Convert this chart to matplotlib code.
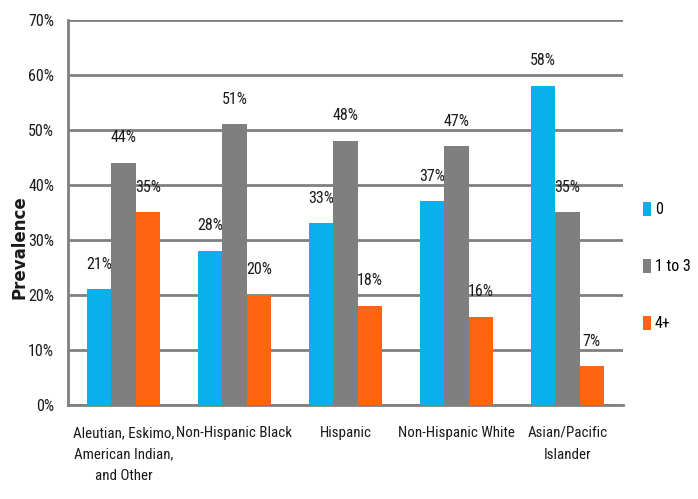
import numpy as np
import matplotlib.pyplot as plt
from matplotlib import font_manager

groups = ["Aleutian, Eskimo,\nAmerican Indian,\nand Other", "Non-Hispanic Black",
          "Hispanic", "Non-Hispanic White", "Asian/Pacific\nIslander"]
series = ["0", "1 to 3", "4+"]
vals_0 = [21, 28, 33, 37, 58]
vals_13 = [44, 51, 48, 47, 35]
vals_4 = [35, 20, 18, 16, 7]
colors = ["#0AAFEE", "#7F7F7F", "#FF6410"]

names = {f.name for f in font_manager.fontManager.ttflist}
narrow = next((n for n in ["Roboto Condensed", "Archivo Narrow", "PT Sans Narrow"] if n in names),
              "Liberation Sans")
plt.rcParams["font.family"] = [narrow, "DejaVu Sans"]
txt = "#1a1a1a"
fs = 11.5

fig = plt.figure(figsize=(6.98, 4.99), dpi=100)
ax = fig.add_axes([0.0974, 0.1884, 0.795, 0.7716])

x = np.arange(len(groups))
w = 0.22
handles = []
for i, (vals, lab) in enumerate(zip([vals_0, vals_13, vals_4], series)):
    pos = x + (i - 1) * w
    handles.append(ax.bar(pos, vals, width=w, color=colors[i], label=lab, zorder=3))
    for p, v in zip(pos, vals):
        ax.text(p, v + 3.2, f"{v}%", ha="center", va="bottom", fontsize=fs, color=txt)

ax.set_xlim(-0.5, len(groups) - 0.5)
ax.set_ylim(0, 70)
ax.set_yticks(np.arange(0, 71, 10))
ax.set_yticklabels([f"{t}%" for t in range(0, 71, 10)], fontsize=fs, color=txt)
ax.yaxis.grid(True, color="#808080", linewidth=2, zorder=0)
ax.set_axisbelow(True)
ax.tick_params(axis="y", length=0, pad=10)
ax.tick_params(axis="x", length=0, pad=15)
ax.set_xticks(x)
ax.set_xticklabels(groups, fontsize=10.8, color=txt, linespacing=1.7)
for s in ["top", "right"]:
    ax.spines[s].set_visible(False)
for s in ["left", "bottom"]:
    ax.spines[s].set_color("#808080")
    ax.spines[s].set_linewidth(2)

ax.set_ylabel("Prevalence", fontsize=12, fontweight="bold", family="DejaVu Sans", color=txt)
ax.yaxis.set_label_coords(-0.072, 0.41)

fig.legend(handles=handles, loc="center left", bbox_to_anchor=(0.921, 0.466), frameon=False,
           fontsize=fs, handlelength=0.5, handleheight=1.0, handletextpad=0.25, labelspacing=2.6,
           borderpad=0, borderaxespad=0)

fig.savefig("out.png", dpi=100)
